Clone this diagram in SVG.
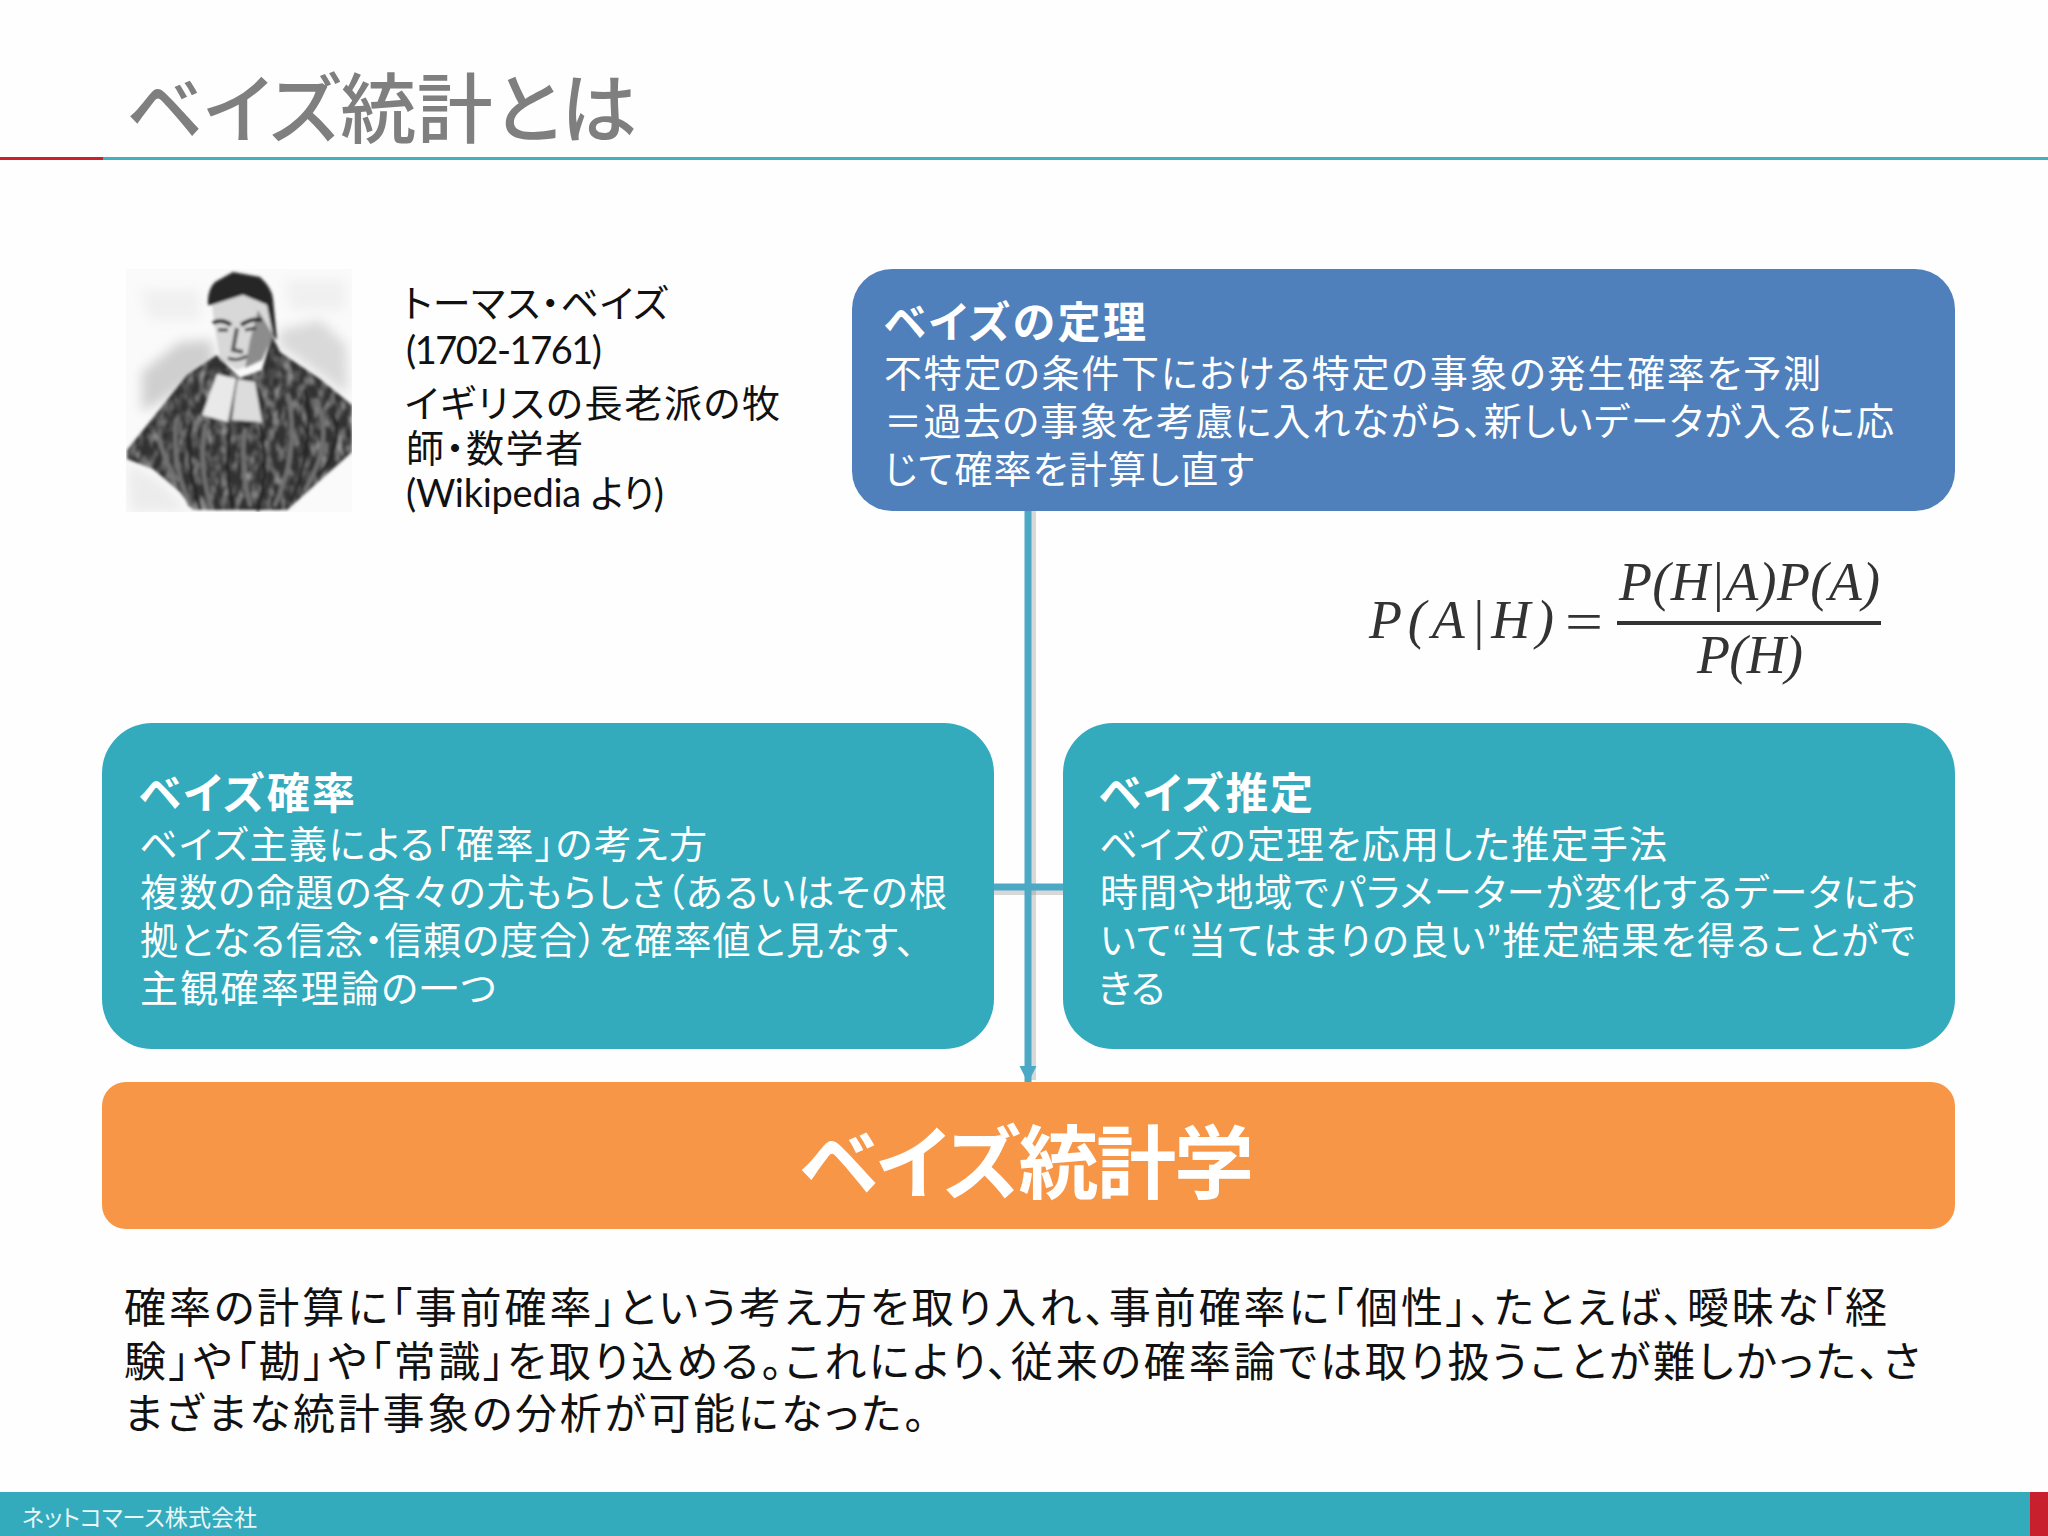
<svg xmlns="http://www.w3.org/2000/svg" width="2048" height="1536" viewBox="0 0 2048 1536">
<defs>
<style>
text{font-family:"Lato","Noto Sans CJK JP","Noto Sans",sans-serif;font-feature-settings:"palt"}
.w{fill:#fff;font-size:38px}
.h{fill:#fff;font-size:43px;font-weight:700}
.k{fill:#111;font-size:38px}
.b{fill:#111;font-size:42px}
.m{font-family:"Liberation Serif",serif;font-style:italic;font-size:54px;fill:#333;font-feature-settings:normal}
.teal{fill:#33abbd}
.c{stroke:#4ba9c6;stroke-width:7;fill:none}
.s{stroke:#8a8a8a;stroke-opacity:.32;stroke-width:6;fill:none}
.fl{stroke:#717171;stroke-width:4;fill:none;stroke-linecap:round}
.fd{stroke:#222;stroke-width:3;fill:none;stroke-linecap:round}
</style>
<filter id="bl" x="-20%" y="-20%" width="140%" height="140%"><feGaussianBlur stdDeviation="6"/></filter>
<filter id="bs" x="-10%" y="-10%" width="120%" height="120%"><feGaussianBlur stdDeviation="1.8"/></filter>
<filter id="grain" x="0" y="0" width="100%" height="100%"><feTurbulence type="fractalNoise" baseFrequency=".14 .07" numOctaves="2" seed="7"/><feColorMatrix values="0 0 0 0 .62  0 0 0 0 .62  0 0 0 0 .62  1.7 0 0 0 -.72"/><feComposite in2="SourceAlpha" operator="in"/></filter>
<clipPath id="pc"><rect x="126" y="269" width="226" height="243"/></clipPath>
<marker id="arr" markerUnits="userSpaceOnUse" markerWidth="18" markerHeight="18" refX="16" refY="8.5" orient="auto"><path d="M0 0L17 8.5L0 17Z" fill="#4ba9c6"/></marker>
</defs>
<rect width="2048" height="1536" fill="#fefefe"/>
<text id="title" x="126" y="137" font-size="76" font-weight="500" fill="#7f7f7f" textLength="511" lengthAdjust="spacing">ベイズ統計とは</text>
<g id="rule"><rect x="103" y="157" width="1945" height="3" fill="#3fb0c0"/><rect x="0" y="157" width="103" height="3" fill="#c8202c"/></g>

<g id="portrait" clip-path="url(#pc)">
<rect x="126" y="269" width="226" height="243" fill="#fafafa"/>
<g filter="url(#bl)">
<path d="M142 372L180 342L212 340L214 362L170 396L142 412Z" fill="#cfcfcf"/>
<path d="M280 330L320 320L346 345L348 395L300 360L278 345Z" fill="#d9d9d9"/>
<path d="M140 290H200V320H150ZM285 280H345V310H290Z" fill="#f0f0f0"/>
<path d="M127 462L160 480L190 512H130Z" fill="#ececec"/>
</g>
<g filter="url(#bs)">
<path d="M217 355L187 375L160 409L127 450V459L153 469L180 492L193 510H287L307 492L352 452V405L320 379L280 352L272 335L262 370L240 378Z" fill="#333"/>
<path d="M217 355L187 375L160 409L127 450V459L153 469L180 492L193 510H287L307 492L352 452V405L320 379L280 352L272 335L262 370L240 378Z" fill="#000" filter="url(#grain)"/>
<path class="fl" d="M176 420Q172 465 190 505M205 425Q198 470 212 508M245 430Q240 470 250 505M288 395Q300 450 275 505M316 400Q335 440 305 490M160 440Q165 465 178 480"/>
<path class="fd" d="M190 425Q186 465 200 508M260 425Q270 470 258 510M305 390Q316 440 292 500M333 415Q345 440 320 475M230 430Q224 470 233 508"/>
<path d="M208 305Q207 290 215 282L233 272L260 277Q272 288 273 299L277 340L268 330L267 305L243 295L212 305Z" fill="#262626"/>
<path d="M212 305L243 295L267 305L273 335L262 360L237 370L220 359L215 329Z" fill="#d8d8d8"/>
<path d="M258 310L273 335L262 360L245 368L250 340Z" fill="#8c8c8c"/>
<path d="M213 323Q222 318 231 325M241 325Q252 318 262 320" stroke="#222" stroke-width="4" fill="none"/>
<path d="M218 330L228 330M245 330L256 328" stroke="#333" stroke-width="3" fill="none"/>
<path d="M237 328L233 350L243 352" stroke="#555" stroke-width="4" fill="none"/>
<path d="M228 358Q236 362 247 356" stroke="#333" stroke-width="3" fill="none"/>
<path d="M217 374L237 379L228 422L202 415Z" fill="#e9e9e9"/>
<path d="M237 379L255 382L262 422L232 420Z" fill="#dcdcdc"/>
<path d="M237 379L229 421" stroke="#777" stroke-width="2"/>
</g>
</g>
<g id="bio">
<text class="k" x="403" y="317" textLength="265" lengthAdjust="spacing">トーマス・ベイズ</text>
<text class="k" x="406" y="364" textLength="196" lengthAdjust="spacing">(1702-1761)</text>
<text class="k" x="405" y="417" textLength="375" lengthAdjust="spacing">イギリスの長老派の牧</text>
<text class="k" x="406" y="462" textLength="177" lengthAdjust="spacing">師・数学者</text>
<text class="k" x="406" y="507" textLength="258" lengthAdjust="spacing">(Wikipedia より)</text>
</g>

<g id="connectors">
<path class="s" d="M994 892H1063"/>
<path class="s" d="M1033 511V1080"/>
<path class="c" d="M994 887H1063"/>
<path class="c" d="M1028 511V1082" marker-end="url(#arr)"/>
</g>

<g id="theorem">
<rect x="852" y="269" width="1103" height="242" rx="40" fill="#4f80bc"/>
<text class="h" x="884" y="338" textLength="262" lengthAdjust="spacing">ベイズの定理</text>
<text class="w" x="884" y="387" textLength="937" lengthAdjust="spacing">不特定の条件下における特定の事象の発生確率を予測</text>
<text class="w" x="884" y="435" textLength="1010" lengthAdjust="spacing">＝過去の事象を考慮に入れながら、新しいデータが入るに応</text>
<text class="w" x="884" y="483" textLength="370" lengthAdjust="spacing">じて確率を計算し直す</text>
</g>

<g id="formula">
<text class="m" x="1369" y="638" textLength="185" lengthAdjust="spacing">P(A|H)</text>
<text class="m" x="1565" y="640" textLength="38" lengthAdjust="spacingAndGlyphs" style="font-style:normal">=</text>
<text class="m" x="1619" y="600" textLength="261" lengthAdjust="spacing">P(H|A)P(A)</text>
<rect x="1617" y="621" width="264" height="4" fill="#333"/>
<text class="m" x="1697" y="673" textLength="106" lengthAdjust="spacing">P(H)</text>
</g>

<g id="probability">
<rect class="teal" x="102" y="723" width="892" height="326" rx="50"/>
<text class="h" x="139" y="809" textLength="216" lengthAdjust="spacing">ベイズ確率</text>
<text class="w" x="139" y="858" textLength="568" lengthAdjust="spacing">ベイズ主義による「確率」の考え方</text>
<text class="w" x="140" y="906" textLength="807" lengthAdjust="spacing">複数の命題の各々の尤もらしさ（あるいはその根</text>
<text class="w" x="140" y="954" textLength="775" lengthAdjust="spacing">拠となる信念・信頼の度合）を確率値と見なす、</text>
<text class="w" x="140" y="1002" textLength="356" lengthAdjust="spacing">主観確率理論の一つ</text>
</g>

<g id="estimation">
<rect class="teal" x="1063" y="723" width="892" height="326" rx="50"/>
<text class="h" x="1099" y="809" textLength="214" lengthAdjust="spacing">ベイズ推定</text>
<text class="w" x="1099" y="858" textLength="568" lengthAdjust="spacing">ベイズの定理を応用した推定手法</text>
<text class="w" x="1100" y="906" textLength="817" lengthAdjust="spacing">時間や地域でパラメーターが変化するデータにお</text>
<text class="w" x="1100" y="954" textLength="815" lengthAdjust="spacing">いて“当てはまりの良い”推定結果を得ることがで</text>
<text class="w" x="1098" y="1002" textLength="67" lengthAdjust="spacing">きる</text>
</g>

<g id="bayesian-statistics">
<rect x="102" y="1082" width="1853" height="147" rx="24" fill="#f79646"/>
<text x="800" y="1192" font-size="80" font-weight="700" fill="#fff" textLength="454" lengthAdjust="spacing">ベイズ統計学</text>
</g>

<g id="summary">
<text class="b" x="124" y="1323" textLength="1763" lengthAdjust="spacing">確率の計算に「事前確率」という考え方を取り入れ、事前確率に「個性」、たとえば、曖昧な「経</text>
<text class="b" x="124" y="1377" textLength="1796" lengthAdjust="spacing">験」や「勘」や「常識」を取り込める。これにより、従来の確率論では取り扱うことが難しかった、さ</text>
<text class="b" x="124" y="1429" textLength="801" lengthAdjust="spacing">まざまな統計事象の分析が可能になった。</text>
</g>

<g id="footer">
<rect class="teal" x="0" y="1492" width="2048" height="44"/>
<rect x="2030" y="1492" width="18" height="44" fill="#c8202c"/>
<text x="22" y="1526" font-size="23" fill="#eaf6f8" textLength="235" lengthAdjust="spacing">ネットコマース株式会社</text>
</g>
</svg>
